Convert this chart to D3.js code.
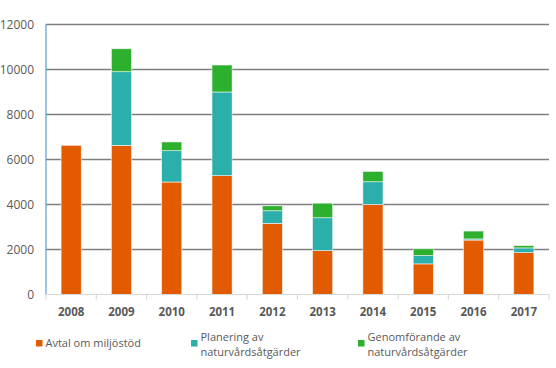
<!DOCTYPE html>
<html>
<head>
<meta charset="utf-8">
<script src="https://cdn.jsdelivr.net/npm/d3@7"></script>
<style>
  body { margin: 0; background: #fff; }
  text { font-family: "Open Sans", "Liberation Sans", sans-serif; }
</style>
</head>
<body>
<div id="chart"></div>
<script>
// years on the x axis
var years = ["2008","2009","2010","2011","2012","2013","2014","2015","2016","2017"];
// series
var avtal      = [6630, 6630, 5000, 5280, 3160, 1950, 4000, 1360, 2420, 1860];
var planering  = [0,    3270, 1390, 3720,  560, 1460, 1010,  370,   50,  210];
var genomforande=[0,    1020,  390, 1200,  220,  650,  460,  300,  350,  100];
var seriesNames = ["Avtal om miljöstöd", "Planering av naturvårdsåtgärder", "Genomförande av naturvårdsåtgärder"];
var yTicks = [0, 2000, 4000, 6000, 8000, 10000, 12000];

var colors = ["#E35B00", "#2BAFAA", "#2DB02D"];

var W = 556, H = 368;
var margin = {top: 24.5, right: 7, bottom: 73.5, left: 46};
var width = W - margin.left - margin.right;
var height = H - margin.top - margin.bottom;

var svg = d3.select("#chart").append("svg").attr("width", W).attr("height", H);
var g = svg.append("g").attr("transform", "translate(" + margin.left + "," + margin.top + ")");

var table = years.map(function(y, i) {
  return {year: y, a: avtal[i], p: planering[i], g: genomforande[i]};
});
var stack = d3.stack().keys(["a", "p", "g"])(table);

var x = d3.scaleBand().domain(years).range([0, width]).paddingInner(0.6).paddingOuter(0.3);
var y = d3.scaleLinear().domain([0, 12000]).range([height, 0]);

// gridlines
g.append("g")
  .selectAll("line").data(yTicks.slice(1)).enter().append("line")
  .attr("x1", 0).attr("x2", width)
  .attr("y1", function(d) { return y(d); }).attr("y2", function(d) { return y(d); })
  .attr("stroke", "#7f7f7f").attr("stroke-width", 1.5);

// y labels
g.append("g").selectAll("text").data(yTicks).enter().append("text")
  .attr("x", -12).attr("y", function(d) { return y(d); })
  .attr("dy", "0.35em").attr("text-anchor", "end")
  .attr("font-size", 12).attr("fill", "#595959")
  .text(function(d) { return d; });

// y axis line
g.append("line").attr("x1", 0).attr("x2", 0).attr("y1", 0).attr("y2", height)
  .attr("stroke", "#5B9BD5").attr("stroke-width", 1.2);

// bars
g.selectAll(".layer").data(stack).enter().append("g")
  .attr("fill", function(d, i) { return colors[i]; })
  .selectAll("rect").data(function(d) { return d; }).enter().append("rect")
  .attr("x", function(d) { return x(d.data.year); })
  .attr("width", x.bandwidth())
  .attr("y", function(d) { return y(d[1]); })
  .attr("height", function(d) { return y(d[0]) - y(d[1]); })
  .attr("stroke", "#f4f4f4").attr("stroke-width", function(d) { return d[1] > d[0] ? 0.6 : 0; });

// x axis
var step = width / years.length;
var xAxis = g.append("g").attr("transform", "translate(0," + height + ")");
xAxis.append("line").attr("x1", 0).attr("x2", width).attr("stroke", "#d9d9d9").attr("stroke-width", 1.2);
xAxis.selectAll(".tk").data(d3.range(years.length + 1)).enter().append("line")
  .attr("x1", function(d) { return d * step; }).attr("x2", function(d) { return d * step; })
  .attr("y1", 0).attr("y2", 5).attr("stroke", "#d9d9d9").attr("stroke-width", 1.2);
xAxis.selectAll("text").data(years).enter().append("text")
  .attr("x", function(d) { return x(d) + x.bandwidth() / 2; })
  .attr("y", 17).attr("dy", "0.35em").attr("text-anchor", "middle")
  .attr("font-size", 11.5).attr("font-weight", "bold").attr("fill", "#595959")
  .text(function(d) { return d; });

// legend
var legendPos = [{x: 36, lines: ["Avtal om miljöstöd"], ty: 343},
                 {x: 191, lines: ["Planering av", "naturvårdsåtgärder"], ty: 337},
                 {x: 358, lines: ["Genomförande av", "naturvårdsåtgärder"], ty: 337}];
var leg = svg.append("g");
legendPos.forEach(function(p, i) {
  leg.append("rect").attr("x", p.x).attr("y", 340).attr("width", 6.5).attr("height", 6.5).attr("fill", colors[i]);
  p.lines.forEach(function(t, j) {
    leg.append("text").attr("x", p.x + 9.5).attr("y", p.ty + j * 15.5).attr("dy", "0.35em")
      .attr("font-size", 11).attr("fill", "#595959").text(t);
  });
});
</script>
</body>
</html>
